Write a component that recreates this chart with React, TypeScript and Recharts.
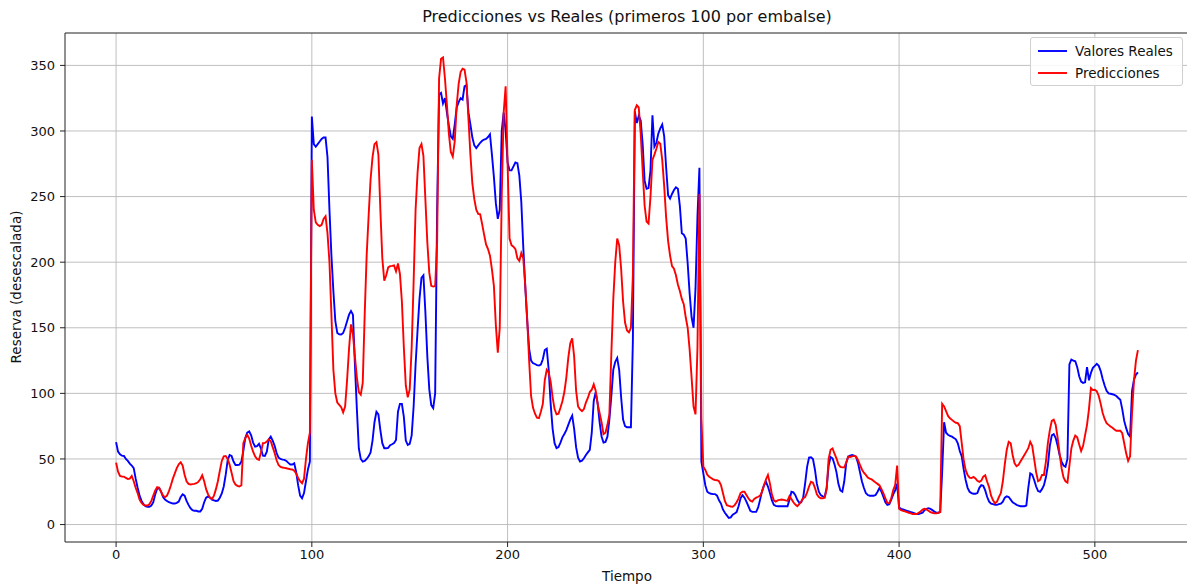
import { LineChart, Line, XAxis, YAxis, CartesianGrid, ReferenceLine } from "recharts";

// reservoir values, index 0..522
const realValues = [
  62.8, 55.6, 53.5, 52.5, 52.3, 50, 48.5, 46.5, 45, 43,
  35, 28, 22, 18, 15.5, 14, 13.5, 13.5, 14.5, 17,
  23, 27.5, 28, 25, 21, 19, 18, 17, 16.5, 16,
  16, 16.5, 17.5, 21, 23, 22, 18, 15, 12.5, 11,
  10.5, 10.5, 10, 10, 12, 17, 20.5, 21.5, 20.5, 19,
  18.5, 18, 18.3, 20.5, 23.7, 29, 38, 49, 53, 52.3,
  48, 45.4, 45.4, 45.6, 48, 56, 66, 70, 71, 68,
  62.5, 59.4, 59.8, 61.5, 58, 52.5, 52.3, 55.6, 65, 67,
  64, 60, 54.5, 51, 50, 49.5, 49.3, 48.5, 47, 45.8,
  45.8, 46.7, 40, 30, 22, 20, 24, 33, 42, 48,
  311, 290, 288, 290, 292, 294, 295, 295, 280, 240,
  205, 178, 155, 146, 145, 144.9, 146, 150, 155, 160,
  162.8, 160, 122, 88, 58, 50, 48, 48.5, 50, 52,
  55, 64, 78, 86, 84, 72, 62, 58.2, 58.2, 58.5,
  60.5, 61.2, 62.2, 64.5, 86, 92, 92, 82, 64, 60.7,
  61.5, 68, 90, 122, 148, 172, 188, 190, 162, 128,
  103, 91, 88.8, 100, 240, 328, 329, 321, 325, 314,
  304, 296, 294, 305, 318, 322, 325, 324, 334, 335,
  314, 305, 295, 289, 287, 289, 291, 292.5, 293.5, 294,
  295.4, 297.5, 282, 265, 245, 233, 240, 300, 314, 300,
  276, 270, 270, 273, 276, 275.5, 266, 246, 212, 182,
  156, 134, 125, 123, 122.4, 121.5, 121.2, 122, 126, 133,
  134, 118, 92, 73, 62, 58.2, 59, 62.5, 66.5, 69,
  72, 76, 80, 83, 73, 59, 51, 48, 48.7, 50.5,
  53, 55, 57, 70, 94, 100.8, 92.6, 78, 67, 62.5,
  63, 67, 80, 98, 118, 124, 127, 118, 97, 80,
  75, 74.2, 74.2, 74.2, 140, 315, 306, 311.5, 308, 290,
  262, 256, 256.5, 270, 312, 288, 291, 298, 302, 305,
  296, 272, 251, 248.5, 252, 255, 257, 256, 243, 222,
  221, 218, 199, 176, 158, 150, 180, 235, 272, 48,
  39, 30, 25, 24, 23.5, 23.2, 23.2, 22, 18.5, 16,
  11.5, 9, 7, 5, 5.5, 7.5, 8.4, 9.5, 14, 20,
  22.4, 20.5, 17.5, 14, 10.5, 9.7, 9.7, 9.7, 13, 19,
  25.5, 30, 32.5, 29, 24, 18.6, 15, 14.2, 14, 14,
  14, 14, 14, 14, 19, 25, 24.5, 22.4, 18.8, 16.5,
  17, 20.5, 31.4, 44, 51, 51.3, 50, 42, 31, 25,
  22.4, 21.5, 21.2, 28, 45, 51.5, 50.5, 46, 40, 31,
  26, 25, 33, 47, 51.8, 52.5, 53, 52.5, 51.8, 47,
  40, 33, 28, 24, 22.5, 22, 22, 22, 22.5, 25,
  28, 25, 21, 17, 15, 15.5, 19, 23, 26, 31,
  13, 12, 11.5, 11, 10.5, 10, 9.5, 9, 8.5, 8,
  8, 8.5, 9, 11, 12, 12.5, 12, 11, 10, 9,
  9, 9.5, 40, 78, 70, 68.5, 67.5, 67, 66, 65,
  62, 56, 52, 42, 34, 28, 25, 24, 23.5, 23.5,
  24, 28, 30, 29.5, 26, 21, 17.5, 16, 15.5, 15,
  15, 15.5, 16, 17.5, 20.5, 21.5, 21, 19, 17, 16,
  15, 14.5, 14, 14, 14, 14.5, 28, 39, 38, 34,
  29, 25.5, 25, 27, 30, 36, 45, 60, 68, 69,
  66, 60, 53, 48, 45, 44, 50, 122, 125.8, 125,
  124.5, 120, 113, 109, 108, 108.4, 120, 110, 115.6, 119.5,
  121, 122.5, 121, 117, 111, 106, 102, 100, 99.7, 99.3,
  98.8, 98, 96.5, 95.2, 88, 79, 73.5, 69, 67, 102,
  110.5, 114.3, 116,
];

const predValues = [
  47.2, 40.3, 37, 36.5, 36.5, 35.5, 34.8, 35, 37, 33,
  28, 24, 19, 16.5, 15, 14.5, 14.5, 15.5, 18, 22,
  26, 28.5, 28, 25, 22, 21, 22, 25.5, 30, 35,
  39, 43, 46, 47.5, 45, 38, 33, 31, 30.5, 30.8,
  31, 31.5, 32.5, 34.5, 37.5, 33, 27, 23, 20.5, 19.5,
  22, 27, 33, 41, 48.5, 52, 52.3, 50, 45.5, 39.5,
  33, 30.5, 29.5, 29, 30, 62, 65.8, 68.5, 65.5, 60,
  55.5, 52, 50, 49.3, 55, 62, 62.2, 63.3, 65, 63.5,
  59, 54.5, 49, 45.4, 44, 43.5, 43.2, 42.9, 42.5, 42.2,
  42, 41, 39, 35.5, 33, 31.5, 35, 50, 62, 70,
  278, 240, 230.4, 228.5, 227.5, 228.5, 233, 235, 222, 200,
  160, 118, 100, 93, 91.3, 89.5, 85.5, 90, 110, 134,
  152.6, 145, 128, 112, 101, 99, 108, 160, 205, 235,
  263, 280, 290, 291.5, 282, 240, 203, 186, 190, 196,
  197, 197.2, 197.5, 193, 199, 191, 170, 135, 106, 97,
  103, 135, 185, 240, 268, 287, 290, 281, 248, 215,
  192, 182, 181.4, 181.8, 215, 340, 355, 356, 340, 320,
  298, 284, 280.5, 292, 319.6, 336, 345, 347.5, 346.8, 337,
  309.4, 282, 260, 248, 240, 236.8, 236.5, 229, 221, 213.5,
  210, 205, 194.5, 182, 152, 131, 150, 250, 314, 334,
  275, 218, 213, 211.8, 210, 203, 201, 207, 203, 183,
  157, 125, 98, 89, 84.5, 81.5, 81.1, 86, 92, 110,
  118, 116, 109, 97, 88, 84, 84.5, 89, 94, 101,
  112, 127, 138, 142, 128, 102, 90, 87.8, 86.5, 88,
  93, 96.5, 101, 102.8, 107, 102, 92, 85, 78, 69,
  70, 76, 84, 130, 172, 200, 218, 213, 195, 170,
  154, 148, 146.5, 150, 190, 316, 319.6, 318, 298, 270,
  243, 231, 229.5, 250, 278, 282, 286.5, 291.6, 290.3, 278,
  258, 234, 216, 205, 197, 195, 190, 183, 178, 172,
  168, 158, 150, 133.4, 112, 90, 84, 135, 252, 80,
  44, 41.6, 38, 36.5, 35.5, 34.5, 34, 33.8, 33, 30.1,
  24, 18, 14.8, 14.2, 13.8, 13.6, 14.8, 17, 20, 24,
  25, 25, 22.5, 20, 18.2, 17.5, 19.5, 20.5, 21.2, 22,
  25, 30, 34.5, 37.8, 31.4, 23, 18.5, 17.5, 18.4, 18.8,
  19.1, 18.8, 18.4, 18.1, 21.7, 19.5, 17, 15.2, 14, 15.5,
  17.5, 20, 21, 24.5, 29, 32.6, 31.9, 28, 23, 21,
  20, 20, 20.5, 27, 50, 57, 58, 54, 50.5, 46,
  44, 43.6, 43.6, 47.5, 51.8, 51.5, 52, 52.3, 51.8, 49.2,
  45.5, 42, 39.5, 37.8, 35.8, 35, 34.4, 33.2, 32, 31,
  29.8, 27, 23.7, 20, 16.5, 16.3, 20, 26.3, 30, 45,
  12, 11, 10.5, 10, 9.5, 9, 8.5, 8, 8, 8,
  9, 10, 11.5, 12, 11.5, 10.5, 9.5, 9, 8.5, 8.5,
  9, 9.5, 92, 90, 86.5, 82.8, 81, 79.8, 78.5, 77.6,
  77.3, 75, 62, 49, 41.5, 37.8, 35.8, 35.5, 36.3, 35.2,
  33.4, 32.5, 33.5, 36.5, 37.5, 32.6, 28.5, 22, 18.5, 16.2,
  17.5, 21, 24, 33, 46, 57, 63, 62, 53, 46.7,
  44.5, 45.5, 48, 50.5, 53, 55.6, 58.2, 63, 60, 50,
  40, 33, 34, 37.8, 37.8, 48, 62, 72, 79, 80,
  76, 66, 54, 43, 36, 33, 32, 45, 58, 64,
  67.8, 66.5, 61, 56, 60, 68, 76, 88, 104, 102.5,
  102.8, 101.5, 98, 92, 85, 80.5, 77.3, 76, 74.7, 73.8,
  72.5, 71.5, 71.5, 71.5, 69.6, 62, 54.3, 48.5, 52, 85,
  110, 125, 133,
];

const xTicks = [0, 100, 200, 300, 400, 500];
const yTicks = [0, 50, 100, 150, 200, 250, 300, 350];
const seriesNames = ["Valores Reales", "Predicciones"];
const seriesColors = ["#0000ff", "#ff0000"];

const rows = realValues.map((v, i) => ({ t: i, real: v, pred: predValues[i] }));

const font = "'DejaVu Sans', sans-serif";
const tickStyle = { fill: "#111", fontSize: 13, fontFamily: font };

export default function App() {
  return (
    <div
      style={{
        position: "absolute",
        left: 0,
        top: 0,
        width: 1187,
        height: 586,
        overflow: "hidden",
        background: "#fff",
        fontFamily: font,
      }}
    >
      <LineChart width={1189} height={586} data={rows} margin={{ top: 33, right: 0, bottom: 0, left: 0 }}>
        <CartesianGrid
          stroke="#b8b8b8"
          strokeWidth={0.9}
          horizontalValues={yTicks}
          verticalValues={xTicks}
        />
        <XAxis
          dataKey="t"
          type="number"
          domain={[-26.1, 548.1]}
          ticks={xTicks}
          allowDataOverflow
          height={44}
          tick={tickStyle}
          tickSize={5}
          tickMargin={3}
          stroke="#222"
        />
        <YAxis
          type="number"
          domain={[-13.3, 374.7]}
          ticks={yTicks}
          allowDataOverflow
          width={65}
          tick={tickStyle}
          tickSize={5}
          tickMargin={5}
          stroke="#222"
        />
        <ReferenceLine y={374.7} stroke="#222" strokeWidth={1} />
        <Line
          type="linear"
          dataKey="real"
          name={seriesNames[0]}
          stroke={seriesColors[0]}
          strokeWidth={1.9}
          dot={false}
          isAnimationActive={false}
        />
        <Line
          type="linear"
          dataKey="pred"
          name={seriesNames[1]}
          stroke={seriesColors[1]}
          strokeWidth={1.9}
          dot={false}
          isAnimationActive={false}
        />
      </LineChart>

      <div
        style={{
          position: "absolute",
          left: 65,
          width: 1124,
          top: 7,
          textAlign: "center",
          fontSize: 16,
          lineHeight: "20px",
          color: "#111",
        }}
      >
        Predicciones vs Reales (primeros 100 por embalse)
      </div>
      <div
        style={{
          position: "absolute",
          left: 65,
          width: 1124,
          top: 568,
          textAlign: "center",
          fontSize: 13.5,
          lineHeight: "16px",
          color: "#111",
        }}
      >
        Tiempo
      </div>
      <div
        style={{
          position: "absolute",
          left: 16,
          top: 287,
          transform: "translate(-50%, -50%) rotate(-90deg)",
          whiteSpace: "nowrap",
          fontSize: 13.5,
          lineHeight: "16px",
          color: "#111",
        }}
      >
        Reserva (desescalada)
      </div>

      <div
        style={{
          position: "absolute",
          left: 1030,
          top: 37,
          width: 153,
          height: 49,
          boxSizing: "border-box",
          border: "1px solid #d0d0d0",
          borderRadius: 3,
          background: "rgba(255,255,255,0.85)",
          fontSize: 13.5,
          color: "#111",
        }}
      >
        {seriesNames.map((name, i) => (
          <div
            key={name}
            style={{ position: "absolute", left: 7, top: 4 + i * 22, height: 18, display: "flex", alignItems: "center" }}
          >
            <svg width={29} height={4} style={{ marginRight: 8 }}>
              <line x1={0} y1={2} x2={29} y2={2} stroke={seriesColors[i]} strokeWidth={1.9} />
            </svg>
            <span>{name}</span>
          </div>
        ))}
      </div>
    </div>
  );
}
